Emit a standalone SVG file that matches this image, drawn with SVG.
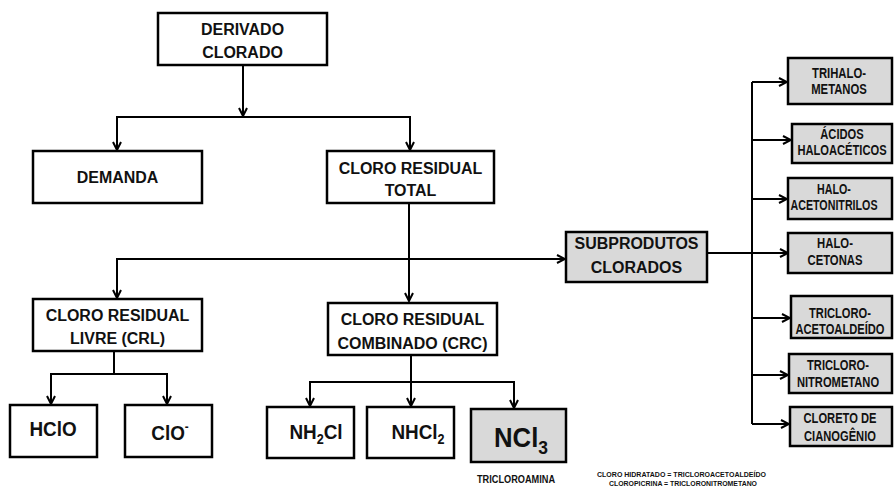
<svg xmlns="http://www.w3.org/2000/svg" width="894" height="489" viewBox="0 0 894 489">
<style>
.b{fill:#fff;stroke:#000;stroke-width:2.5}
.g{fill:#d9d9d9;stroke:#000;stroke-width:2.5}
.t{font-family:"Liberation Sans",Arial,sans-serif;font-weight:bold;font-size:17px;text-anchor:middle;fill:#111}
.r{font-family:"Liberation Sans",Arial,sans-serif;font-weight:bold;font-size:15.5px;text-anchor:middle;fill:#111}
.c{font-family:"Liberation Sans",Arial,sans-serif;font-weight:bold;font-size:21px;text-anchor:middle;fill:#111}
.s{font-family:"Liberation Sans",Arial,sans-serif;font-weight:bold;font-size:8px;text-anchor:middle;fill:#111}
.l{fill:none;stroke:#000;stroke-width:2}
</style>
<defs>
<marker id="a" viewBox="0 0 10 10" refX="9" refY="5" markerWidth="10" markerHeight="10" markerUnits="userSpaceOnUse" orient="auto-start-reverse">
<path d="M1,1 L9,5 L1,9" fill="none" stroke="#000" stroke-width="2"/>
</marker>
</defs>
<g id="connectors">
<path class="l" d="M243,65 V116" marker-end="url(#a)"/>
<path class="l" d="M117,150 V117 H410 V150" marker-start="url(#a)" marker-end="url(#a)"/>
<path class="l" d="M409,203 V301" marker-end="url(#a)"/>
<path class="l" d="M117,298 V259 H565" marker-start="url(#a)" marker-end="url(#a)"/>
<path class="l" d="M114,351 V373"/>
<path class="l" d="M51,404 V374 H167 V404" marker-start="url(#a)" marker-end="url(#a)"/>
<path class="l" d="M411,355 V381"/>
<path class="l" d="M411,382 V406" marker-end="url(#a)"/>
<path class="l" d="M310,406 V382 H514 V408" marker-start="url(#a)" marker-end="url(#a)"/>
<path class="l" d="M707,253 H752"/>
<path class="l" d="M752,82 V424"/>
<path class="l" d="M752,82 H787" marker-end="url(#a)"/>
<path class="l" d="M752,140 H791" marker-end="url(#a)"/>
<path class="l" d="M752,199 H787" marker-end="url(#a)"/>
<path class="l" d="M752,253 H788" marker-end="url(#a)"/>
<path class="l" d="M752,318 H790" marker-end="url(#a)"/>
<path class="l" d="M752,375 H788" marker-end="url(#a)"/>
<path class="l" d="M752,424 H789" marker-end="url(#a)"/>
</g>
<g id="derivado">
<rect class="b" x="158" y="13" width="169" height="52"/>
<text class="t" transform="translate(242.5,35) scale(0.94,1)">DERIVADO</text>
<text class="t" transform="translate(242.5,58) scale(0.94,1)">CLORADO</text>
</g>
<g id="demanda">
<rect class="b" x="33" y="151" width="169" height="52"/>
<text class="t" transform="translate(117.5,183) scale(0.94,1)">DEMANDA</text>
</g>
<g id="crt">
<rect class="b" x="327" y="151" width="167" height="52"/>
<text class="t" transform="translate(410.5,174) scale(0.94,1)">CLORO RESIDUAL</text>
<text class="t" transform="translate(410.5,196) scale(0.94,1)">TOTAL</text>
</g>
<g id="crl">
<rect class="b" x="33" y="299" width="169" height="52"/>
<text class="t" transform="translate(117.5,321) scale(0.94,1)">CLORO RESIDUAL</text>
<text class="t" transform="translate(117.5,344) scale(0.94,1)">LIVRE (CRL)</text>
</g>
<g id="crc">
<rect class="b" x="328" y="303" width="169" height="52"/>
<text class="t" transform="translate(412.5,325) scale(0.94,1)">CLORO RESIDUAL</text>
<text class="t" transform="translate(412.5,349) scale(0.94,1)">COMBINADO (CRC)</text>
</g>
<g id="subprodutos">
<rect class="g" x="566" y="232" width="141" height="50"/>
<text class="t" transform="translate(636.5,249) scale(0.94,1)">SUBPRODUTOS</text>
<text class="t" transform="translate(636.5,273) scale(0.94,1)">CLORADOS</text>
</g>
<g id="hclo">
<rect class="b" x="10" y="405" width="87" height="52"/>
<text class="c" transform="translate(53,436) scale(0.9,1)">HClO</text>
</g>
<g id="clo">
<rect class="b" x="125" y="405" width="87" height="52"/>
<text class="c" transform="translate(170,440) scale(0.9,1)">ClO<tspan style="font-size:13px" dy="-9">-</tspan></text>
</g>
<g id="nh2cl">
<rect class="b" x="267" y="407" width="87" height="51"/>
<text class="c" transform="translate(316,439) scale(0.9,1)">NH<tspan style="font-size:14px" dy="5">2</tspan><tspan dy="-5">Cl</tspan></text>
</g>
<g id="nhcl2">
<rect class="b" x="367" y="407" width="87" height="51"/>
<text class="c" transform="translate(418,439) scale(0.9,1)">NHCl<tspan style="font-size:14px" dy="5">2</tspan></text>
</g>
<g id="ncl3">
<rect class="g" x="471" y="409" width="95" height="53"/>
<text class="c" style="font-size:28px" transform="translate(521,447) scale(0.92,1)">NCl<tspan style="font-size:19px" dy="7">3</tspan></text>
<text class="t" style="font-size:10px" transform="translate(516,483) scale(0.92,1)">TRICLOROAMINA</text>
</g>
<g id="trihalometanos">
<rect class="g" x="788" y="58" width="104" height="46"/>
<text class="r" transform="translate(839,78) scale(0.73,1)">TRIHALO-</text>
<text class="r" transform="translate(839,94) scale(0.73,1)">METANOS</text>
</g>
<g id="acidos">
<rect class="g" x="792" y="124" width="100" height="39"/>
<text class="r" transform="translate(842,139) scale(0.72,1)">ÁCIDOS</text>
<text class="r" transform="translate(842,155) scale(0.72,1)">HALOACÉTICOS</text>
</g>
<g id="haloacetonitrilos">
<rect class="g" x="788" y="178" width="104" height="41"/>
<text class="r" transform="translate(834,194) scale(0.69,1)">HALO-</text>
<text class="r" transform="translate(834,210) scale(0.69,1)">ACETONITRILOS</text>
</g>
<g id="halocetonas">
<rect class="g" x="788" y="233" width="104" height="40"/>
<text class="r" transform="translate(835,248) scale(0.73,1)">HALO-</text>
<text class="r" transform="translate(835,265) scale(0.73,1)">CETONAS</text>
</g>
<g id="tricloroacetoaldeido">
<rect class="g" x="791" y="296" width="101" height="42"/>
<text class="r" transform="translate(840,318) scale(0.72,1)">TRICLORO-</text>
<text class="r" transform="translate(840,334) scale(0.72,1)">ACETOALDEÍDO</text>
</g>
<g id="tricloronitrometano">
<rect class="g" x="789" y="354" width="103" height="39"/>
<text class="r" transform="translate(838,370) scale(0.72,1)">TRICLORO-</text>
<text class="r" transform="translate(838,387) scale(0.72,1)">NITROMETANO</text>
</g>
<g id="cloretocianogenio">
<rect class="g" x="790" y="407" width="102" height="39"/>
<text class="r" transform="translate(840,423) scale(0.72,1)">CLORETO DE</text>
<text class="r" transform="translate(840,441) scale(0.72,1)">CIANOGÊNIO</text>
</g>
<g id="notes">
<text class="s" x="681.5" y="477" textLength="169" lengthAdjust="spacingAndGlyphs">CLORO HIDRATADO = TRICLOROACETOALDEÍDO</text>
<text class="s" x="683" y="486" textLength="148" lengthAdjust="spacingAndGlyphs">CLOROPICRINA = TRICLORONITROMETANO</text>
</g>
</svg>
